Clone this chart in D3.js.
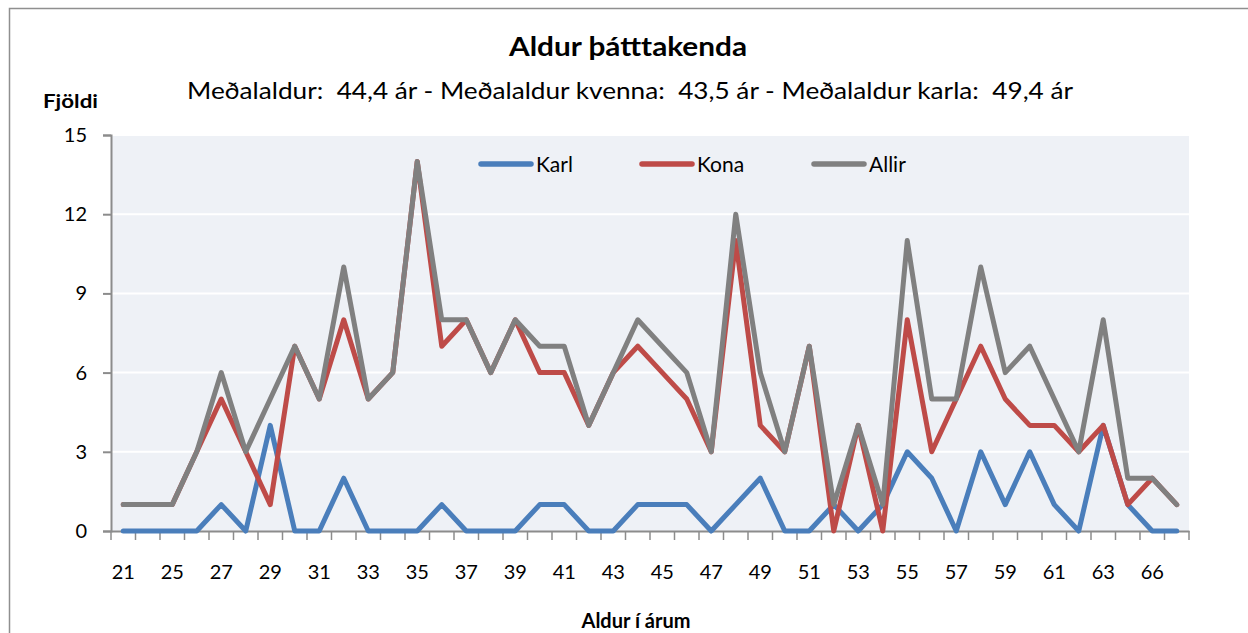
<!DOCTYPE html>
<html><head><meta charset="utf-8">
<script src="https://cdn.jsdelivr.net/npm/d3@7"></script>
<style>body{margin:0;background:#fff;}svg{display:block;font-family:Lato,"Open Sans",sans-serif;}</style>
</head><body>
<svg id="c" width="1248" height="633"></svg>
<script>
const categories = ["21","24","25","26","27","28","29","30","31","32","33","34","35","36","37","38","39","40","41","42","43","44","45","46","47","48","49","50","51","52","53","54","55","56","57","58","59","60","61","62","63","64","66","67"];
const karl  = [0,0,0,0,1,0,4,0,0,2,0,0,0,1,0,0,0,1,1,0,0,1,1,1,0,1,2,0,0,1,0,1,3,2,0,3,1,3,1,0,4,1,0,0];
const kona  = [1,1,1,3,5,3,1,7,5,8,5,6,14,7,8,6,8,6,6,4,6,7,6,5,3,11,4,3,7,0,4,0,8,3,5,7,5,4,4,3,4,1,2,1];
const allir = [1,1,1,3,6,3,5,7,5,10,5,6,14,8,8,6,8,7,7,4,6,8,7,6,3,12,6,3,7,1,4,1,11,5,5,10,6,7,5,3,8,2,2,1];
const yTicks = [0,3,6,9,12,15];
const seriesNames = ["Karl","Kona","Allir"];
const seriesColors = ["#4A7EBB","#BE4B48","#808080"];
const title = "Aldur þátttakenda";
const subtitle = "Meðalaldur:  44,4 ár - Meðalaldur kvenna:  43,5 ár - Meðalaldur karla:  49,4 ár";
const yTitle = "Fjöldi";
const xTitle = "Aldur í árum";

const svg = d3.select("#c");
const series = [karl, kona, allir];

// chart frame
svg.append("rect").attr("x",9.5).attr("y",8.5).attr("width",1300).attr("height",700)
  .attr("fill","#fff").attr("stroke","#8f8f8f").attr("stroke-width",1.5);

const L = 111, R = 1189, T = 135, B = 531;
const x = d3.scaleBand().domain(categories).range([L, R]);
const y = d3.scaleLinear().domain([0,15]).range([B, T]);

svg.append("rect").attr("x",L).attr("y",T).attr("width",R-L).attr("height",B-T).attr("fill","#EEF1F6");

// gridlines
svg.append("g").selectAll("line").data(yTicks.filter(d=>d>0)).join("line")
  .attr("x1",L).attr("x2",R).attr("y1",d=>y(d)).attr("y2",d=>y(d))
  .attr("stroke","#fff").attr("stroke-width",2);

// y axis
const yAxis = svg.append("g").attr("transform",`translate(${L},0)`)
  .call(d3.axisLeft(y).tickValues(yTicks).tickSize(8).tickPadding(16));
yAxis.select(".domain").attr("stroke","#8c8c8c").attr("stroke-width",2);
yAxis.selectAll(".tick line").attr("stroke","#8c8c8c").attr("stroke-width",2);
yAxis.selectAll("text").attr("font-size",20).attr("fill","#000").attr("font-family","Lato");

// x axis
const xAxis = svg.append("g").attr("transform",`translate(0,${B})`)
  .call(d3.axisBottom(x).tickValues(categories.filter((d,i)=>i%2===0)).tickSize(0).tickPadding(34));
xAxis.select(".domain").attr("stroke","#8c8c8c").attr("stroke-width",2);
xAxis.selectAll("text").attr("font-size",20).attr("fill","#000").attr("font-family","Lato");
// boundary ticks
const bounds = categories.map(c=>x(c)).concat([R]);
svg.append("g").selectAll("line").data(bounds).join("line")
  .attr("x1",d=>d).attr("x2",d=>d).attr("y1",B).attr("y2",B+9)
  .attr("stroke","#8c8c8c").attr("stroke-width",1.5);

// lines
const line = d3.line().x((d,i)=>x(categories[i])+x.bandwidth()/2).y(d=>y(d));
series.forEach((s,k)=>{
  svg.append("path").datum(s).attr("d",line).attr("fill","none")
    .attr("stroke",seriesColors[k]).attr("stroke-width",5)
    .attr("stroke-linejoin","round").attr("stroke-linecap","round");
});

// legend
const legX = [481, 642, 814];
seriesNames.forEach((n,k)=>{
  const g = svg.append("g");
  g.append("line").attr("x1",legX[k]).attr("x2",legX[k]+50).attr("y1",164).attr("y2",164)
    .attr("stroke",seriesColors[k]).attr("stroke-width",5.5).attr("stroke-linecap","round");
  g.append("text").attr("x",legX[k]+55).attr("y",171.5).attr("font-size",21).text(n);
});

// titles
svg.append("text").attr("x",509).attr("y",56)
  .attr("font-size",26).attr("font-weight","bold")
  .attr("textLength",238).attr("lengthAdjust","spacingAndGlyphs").text(title);
svg.append("text").attr("x",187).attr("y",99).style("white-space","pre")
  .attr("font-size",23).attr("textLength",886).attr("lengthAdjust","spacingAndGlyphs").text(subtitle);
svg.append("text").attr("x",43).attr("y",108)
  .attr("font-size",19).attr("font-weight","bold")
  .attr("textLength",55).attr("lengthAdjust","spacingAndGlyphs").text(yTitle);
svg.append("text").attr("x",636).attr("y",628).attr("text-anchor","middle")
  .attr("font-size",20).attr("font-weight","bold").text(xTitle);
</script>
</body></html>
